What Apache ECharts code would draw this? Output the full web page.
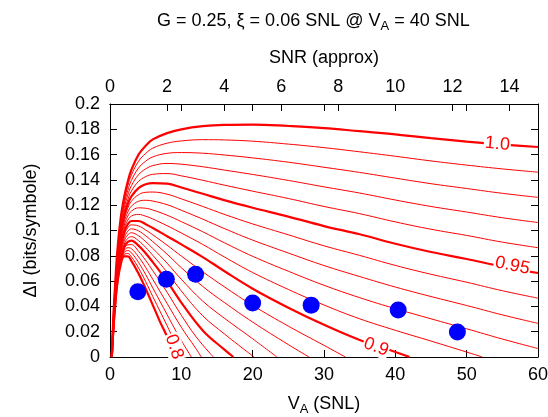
<!DOCTYPE html>
<html><head><meta charset="utf-8">
<script src="https://cdn.jsdelivr.net/npm/echarts@6/dist/echarts.min.js"></script>
<style>html,body{margin:0;padding:0;background:#fff}#c{width:548px;height:417px}</style>
</head><body><div id="c"></div>
<script>
// contour levels of the efficiency (V_A in SNL, ΔI in bits/symbol)
const lv100 = [[0.25,0],[0.5,0.035],[0.7,0.055],[1,0.082],[1.5,0.11],[2,0.127],[2.5,0.139],[3,0.148],[4,0.16],[5,0.167],[6,0.172],[8,0.177],[10,0.18],[13,0.1825],[16,0.1835],[20,0.1837],[25,0.1826],[30,0.181],[35,0.1785],[40,0.176],[45,0.173],[50,0.1703],[55,0.168],[60,0.166]];
const lv099 = [[0.25,0],[0.5,0.034],[0.7,0.054],[1,0.0802],[1.5,0.1076],[2,0.124],[2.5,0.1354],[3,0.1438],[4,0.1547],[5,0.1609],[6,0.1651],[8,0.169],[10,0.1708],[13,0.1718],[16,0.1716],[20,0.1706],[25,0.1683],[30,0.1655],[35,0.1622],[40,0.1587],[45,0.155],[50,0.1517],[55,0.1487],[60,0.1461]];
const lv098 = [[0.25,0],[0.5,0.033],[0.7,0.053],[1,0.0784],[1.5,0.1052],[2,0.121],[2.5,0.1318],[3,0.1396],[4,0.1494],[5,0.1548],[6,0.1582],[8,0.161],[10,0.1616],[13,0.1611],[16,0.1597],[20,0.1574],[25,0.154],[30,0.15],[35,0.1459],[40,0.1414],[45,0.137],[50,0.1332],[55,0.1294],[60,0.1262]];
const lv097 = [[0.25,0],[0.5,0.032],[0.7,0.052],[1,0.0766],[1.5,0.1028],[2,0.118],[2.5,0.1282],[3,0.1354],[4,0.1441],[5,0.1487],[6,0.1513],[8,0.153],[10,0.1524],[13,0.1504],[16,0.1478],[20,0.1443],[25,0.1396],[30,0.1345],[35,0.1296],[40,0.1241],[45,0.119],[50,0.1146],[55,0.1101],[60,0.1063]];
const lv096 = [[0.25,0],[0.5,0.031],[0.7,0.051],[1,0.0748],[1.5,0.1004],[2,0.115],[2.5,0.1246],[3,0.1312],[4,0.1388],[5,0.1426],[6,0.1444],[8,0.145],[10,0.1432],[13,0.1397],[16,0.1359],[20,0.1311],[25,0.1253],[30,0.119],[35,0.1133],[40,0.1068],[45,0.101],[50,0.0961],[55,0.0908],[60,0.0864]];
const lv095 = [[0.25,0],[0.5,0.03],[0.7,0.05],[1,0.073],[1.5,0.098],[2,0.112],[2.5,0.121],[3,0.127],[4,0.1335],[5,0.1365],[6,0.1375],[8,0.137],[10,0.134],[13,0.129],[16,0.124],[20,0.118],[25,0.111],[30,0.1035],[35,0.097],[40,0.0895],[45,0.083],[50,0.0775],[55,0.0715],[60,0.0664]];
const lv094 = [[0.25,0],[0.5,0.0294],[0.7,0.049],[1,0.0714],[1.5,0.0958],[2,0.1094],[2.5,0.1178],[3,0.1231],[4,0.1283],[5,0.1302],[6,0.1304],[8,0.1287],[10,0.125],[13,0.119],[16,0.1128],[20,0.1052],[25,0.0966],[30,0.0879],[35,0.0803],[40,0.0724],[45,0.0654],[50,0.0591],[55,0.0524],[60,0.0465]];
const lv093 = [[0.25,0],[0.5,0.0288],[0.7,0.048],[1,0.0698],[1.5,0.0936],[2,0.1068],[2.5,0.1146],[3,0.1192],[4,0.1231],[5,0.1239],[6,0.1233],[8,0.1204],[10,0.116],[13,0.109],[16,0.1016],[20,0.0924],[25,0.0822],[30,0.0723],[35,0.0636],[40,0.0553],[45,0.0478],[50,0.0407],[55,0.0333],[60,0.0266]];
const lv092 = [[0.25,0],[0.5,0.0282],[0.7,0.047],[1,0.0682],[1.5,0.0914],[2,0.1042],[2.5,0.1114],[3,0.1153],[4,0.1179],[5,0.1176],[6,0.1162],[8,0.1121],[10,0.107],[13,0.099],[16,0.0904],[20,0.0796],[25,0.0678],[30,0.0567],[35,0.0469],[40,0.0382],[45,0.0302],[50,0.0223],[55,0.0142],[60,0.0067]];
const lv091 = [[0.25,0],[0.5,0.0276],[0.7,0.046],[1,0.0666],[1.5,0.0892],[2,0.1016],[2.5,0.1082],[3,0.1114],[4,0.1127],[5,0.1113],[6,0.1091],[8,0.1038],[10,0.098],[13,0.089],[16,0.0792],[20,0.0668],[25,0.0534],[30,0.0411],[35,0.0302],[40,0.0211],[45,0.0126],[50,0.0039],[52.2,0]];
const lv090 = [[0.25,0],[0.5,0.027],[0.7,0.045],[1,0.065],[1.5,0.087],[2,0.099],[2.5,0.105],[3,0.1075],[4,0.1075],[5,0.105],[6,0.102],[8,0.0955],[10,0.089],[13,0.079],[16,0.068],[20,0.054],[25,0.039],[30,0.0255],[35,0.0135],[40,0.004],[42,0]];
const lv089 = [[0.25,0],[0.5,0.0266],[0.7,0.044],[1,0.0636],[1.5,0.085],[2,0.0966],[2.5,0.1022],[3,0.1044],[4,0.1036],[5,0.1004],[6,0.0966],[8,0.0884],[10,0.0798],[13,0.0674],[16,0.0556],[20,0.0408],[25,0.0244],[30,0.0092],[33,0]];
const lv088 = [[0.25,0],[0.5,0.0262],[0.7,0.043],[1,0.0622],[1.5,0.083],[2,0.0942],[2.5,0.0994],[3,0.1013],[4,0.0997],[5,0.0958],[6,0.0912],[8,0.0813],[10,0.0706],[13,0.0558],[16,0.0432],[20,0.0276],[25,0.0098],[27.9,0]];
const lv087 = [[0.25,0],[0.5,0.0258],[0.7,0.042],[1,0.0608],[1.5,0.081],[2,0.0918],[2.5,0.0966],[3,0.0982],[4,0.0958],[5,0.0912],[6,0.0858],[8,0.0742],[10,0.0614],[13,0.0442],[16,0.0308],[20,0.0144],[23.4,0]];
const lv086 = [[0.25,0],[0.5,0.0254],[0.7,0.041],[1,0.0594],[1.5,0.079],[2,0.0894],[2.5,0.0938],[3,0.0951],[4,0.0919],[5,0.0866],[6,0.0804],[8,0.0671],[10,0.0522],[13,0.0326],[16,0.0184],[18,0.0095],[20.2,0]];
const lv085 = [[0.25,0],[0.5,0.025],[0.7,0.04],[1,0.058],[1.5,0.077],[2,0.087],[2.5,0.091],[3,0.092],[4,0.088],[5,0.082],[6,0.075],[8,0.06],[10,0.043],[13,0.021],[16,0.006],[17.3,0]];
const lv084 = [[0.25,0],[0.5,0.0248],[0.7,0.0398],[1,0.0578],[1.5,0.0762],[2,0.0855],[2.5,0.0887],[3,0.0888],[4,0.0836],[5,0.0764],[6,0.0682],[8,0.0512],[10,0.033],[12,0.0165],[14,0.003],[14.5,0]];
const lv083 = [[0.25,0],[0.5,0.0246],[0.7,0.0396],[1,0.0576],[1.5,0.0754],[2,0.084],[2.5,0.0864],[3,0.0856],[4,0.0792],[5,0.0708],[6,0.0614],[8,0.0424],[10,0.0235],[12,0.007],[12.8,0]];
const lv082 = [[0.25,0],[0.5,0.0244],[0.7,0.0394],[1,0.0574],[1.5,0.0746],[2,0.0825],[2.5,0.0841],[3,0.0824],[4,0.0748],[5,0.0652],[6,0.0546],[8,0.0336],[9,0.023],[10,0.013],[11.4,0]];
const lv081 = [[0.25,0],[0.5,0.0242],[0.7,0.0392],[1,0.0572],[1.5,0.0738],[2,0.081],[2.5,0.0818],[3,0.0792],[4,0.0704],[5,0.0596],[6,0.0478],[8,0.0248],[9,0.013],[10,0.003],[10.3,0]];
const lv080 = [[0.25,0],[0.5,0.024],[0.7,0.039],[1,0.057],[1.5,0.073],[2,0.0795],[2.5,0.0795],[3,0.076],[4,0.066],[5,0.054],[6,0.041],[7,0.028],[8,0.016],[9,0]];

const levels = [1.0,0.99,0.98,0.97,0.96,0.95,0.94,0.93,0.92,0.91,0.90,0.89,0.88,0.87,0.86,0.85,0.84,0.83,0.82,0.81,0.80];
const curves = [lv100,lv099,lv098,lv097,lv096,lv095,lv094,lv093,lv092,lv091,lv090,lv089,lv088,lv087,lv086,lv085,lv084,lv083,lv082,lv081,lv080];
const thickLevels = [1.0,0.95,0.90,0.85,0.80];

// measured points
const dotVA = [3.9, 7.9, 12.0, 20.0, 28.2, 40.4, 48.7];
const dotDI = [0.0516, 0.0614, 0.0654, 0.0427, 0.041, 0.0372, 0.0198];

// contour labels (text, anchor in data units, angle following the line)
const labelText = ['1.0', '0.95', '0.9', '0.8'];
const labelVA = [54.3, 56.4, 37.3, 9.0];
const labelDI = [0.1684, 0.0722, 0.0079, 0.008];
const labelAngle = [-5, -12, -21, -72];

const FONT = '"Liberation Sans", Arial, Helvetica, sans-serif';
const chart = echarts.init(document.getElementById('c'), null, {renderer: 'canvas'});

const series = curves.map((c, i) => ({
  type: 'line',
  xAxisIndex: 0, yAxisIndex: 0,
  data: c,
  showSymbol: false,
  smooth: 0.4,
  lineStyle: {color: '#ff0000', width: thickLevels.includes(levels[i]) ? 2.2 : 1},
  silent: true,
  z: 2
}));

series.push({
  type: 'scatter',
  xAxisIndex: 0, yAxisIndex: 0,
  data: labelText.map((t, i) => ({
    value: [labelVA[i], labelDI[i]],
    name: t,
    label: {rotate: labelAngle[i]}
  })),
  symbolSize: 0,
  itemStyle: {color: '#ffffff', opacity: 1},
  label: {
    show: true, position: 'inside', formatter: p => p.name,
    color: '#ff0000', fontSize: 18, fontFamily: FONT, opacity: 1,
    backgroundColor: '#ffffff', padding: [0, 1]
  },
  silent: true,
  z: 5
});

series.push({
  type: 'scatter',
  xAxisIndex: 0, yAxisIndex: 0,
  data: dotVA.map((x, i) => [x, dotDI[i]]),
  symbol: 'circle',
  symbolSize: 17,
  itemStyle: {color: '#0000ff', opacity: 1},
  z: 6
});

const axisCommon = {
  axisLine: {show: true, onZero: false, lineStyle: {color: '#000', width: 1}},
  axisTick: {show: true, inside: true, length: 7, lineStyle: {color: '#000', width: 1}},
  splitLine: {show: false},
  axisLabel: {color: '#000', fontSize: 18, fontFamily: FONT}
};

const richSub = {
  sub: {fontSize: 13, fontFamily: FONT, color: '#000', padding: [10, 0, 0, 0]}
};

chart.setOption({
  animation: false,
  backgroundColor: '#fff',
  title: {
    text: 'G = 0.25, ξ = 0.06 SNL @ V{sub|A} = 40 SNL',
    left: 152, top: 5,
    textStyle: {fontSize: 18, fontWeight: 'normal', color: '#000', fontFamily: FONT, rich: richSub}
  },
  grid: {left: 110, right: 10, top: 104, bottom: 60, containLabel: false, outerBoundsMode: 'none'},
  xAxis: [
    Object.assign({}, axisCommon, {
      type: 'value', position: 'bottom', min: 0, max: 60, interval: 10,
      axisLabel: Object.assign({}, axisCommon.axisLabel, {margin: 9}),
      name: 'V{sub|A} (SNL)', nameLocation: 'middle', nameGap: 36,
      nameTextStyle: {fontSize: 18, color: '#000', fontFamily: FONT, rich: richSub}
    }),
    Object.assign({}, axisCommon, {
      type: 'value', position: 'top', min: 0, max: 15, interval: 2,
      axisLabel: Object.assign({}, axisCommon.axisLabel, {margin: 8, showMaxLabel: false}),
      name: 'SNR (approx)', nameLocation: 'middle', nameGap: 37,
      nameTextStyle: {fontSize: 18, color: '#000', fontFamily: FONT}
    }),
    Object.assign({}, axisCommon, {
      type: 'value', position: 'top', min: 0, max: 60, interval: 10,
      axisLabel: {show: false}
    })
  ],
  yAxis: [
    Object.assign({}, axisCommon, {
      type: 'value', position: 'left', min: 0, max: 0.2, interval: 0.02,
      axisLabel: Object.assign({}, axisCommon.axisLabel, {margin: 10, formatter: v => String(+v.toFixed(2))}),
      name: 'ΔI (bits/symbole)', nameLocation: 'middle', nameGap: 70,
      nameTextStyle: {fontSize: 18, color: '#000', fontFamily: FONT}
    }),
    Object.assign({}, axisCommon, {
      type: 'value', position: 'right', min: 0, max: 0.2, interval: 0.02,
      axisLabel: {show: false}
    })
  ],
  series: series
});
</script>
</body></html>
